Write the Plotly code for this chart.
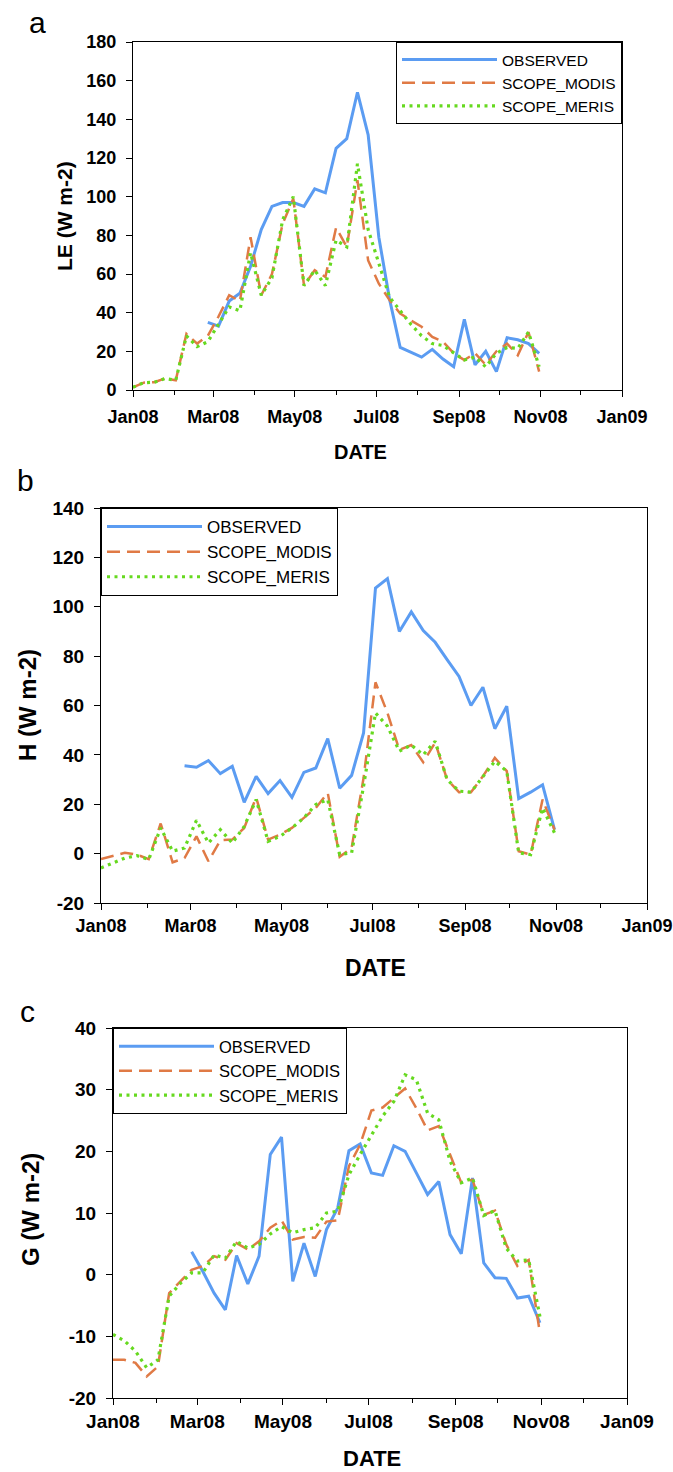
import pandas as pd
import plotly.graph_objects as go

# 8-day composite dates
model_dates = pd.date_range("2008-01-01", periods=39, freq="8D")
obs_dates = model_dates[7:]

# Panel a: LE
LE_obs = [35, 33, 46, 50, 64, 83, 95, 97, 97, 95, 104, 102, 125, 130, 154, 132, 79, 47, 22, 19.3,
          17, 21, 16, 12, 36.5, 13, 20, 9.5, 27, 26, 24, 19]
LE_modis = [1.4, 3.8, 4, 6, 5, 29, 24, 28, 38, 49, 46, 79, 49, 60, 86, 99, 54, 62, 58.5, 84,
            74, 108.5, 67, 55, 46.5, 39.6, 36, 32.7, 27.5, 25, 19, 15.5, 19, 13, 20, 24, 18, 30, 9.5]
LE_meris = [1.4, 3.8, 4, 6, 5, 28, 22.4, 25, 34, 43, 41, 71, 49, 58, 88, 100, 54, 62, 54, 77.5,
            74, 117, 83, 65, 48, 41, 34, 28, 24, 23, 19, 15.5, 17, 12, 19, 22, 21.5, 30, 12]
LE_ticks = [0, 20, 40, 60, 80, 100, 120, 140, 160, 180]

# Panel b: H
H_obs = [35.6, 35, 37.7, 32.4, 35.4, 20.8, 31.3, 24.3, 29.6, 22.8, 32.9, 34.7, 46.6, 26.5, 31.7, 48.9,
         107.6, 111.4, 90, 97.9, 90.4, 85.6, 78.6, 71.8, 60, 67.4, 50.6, 59.7, 22.3, 24.9, 27.9, 9.7]
H_modis = [-2.2, -0.8, 0.3, -0.4, -2.2, 12.2, -3.5, -1.8, 7.0, -3.1, 5.4, 5.7, 10.4, 22.8, 5.7, 7.7,
           10.4, 14.5, 18.5, 24.6, -1.3, 2.3, 30.6, 69.4, 57, 42, 44, 37, 45, 30, 24.9, 24.9, 31.3,
           38.8, 33.4, 1, -0.4, 21.9, 9.7]
H_meris = [-5.8, -3.8, -1.8, -0.8, -2.4, 10.4, 1, 2.3, 13.5, 4.3, 9.7, 4.3, 11, 21.9, 5, 7,
           10.4, 14.5, 19.9, 21.9, -0.4, 0.3, 27.3, 57, 51.6, 41.5, 44, 40, 45.5, 30, 25.3, 24.9, 31.3,
           37.4, 33.4, 0.3, -0.4, 18.5, 8.4]
H_ticks = [-20, 0, 20, 40, 60, 80, 100, 120, 140]

# Panel c: G
G_obs = [3.7, 0.5, -3.0, -5.7, 3.1, -1.5, 3.0, 19.5, 22.3, -1.1, 5.1, -0.3, 7.3, 10.8, 20.1, 21.2,
         16.5, 16.1, 20.9, 20, 16.5, 13, 15.1, 6.5, 3.4, 15.7, 1.9, -0.5, -0.6, -3.8, -3.5, -7.8]
G_modis = [-13.8, -13.8, -14.3, -16.5, -14.9, -3.0, -1.1, 0.8, 1.4, 3.0, 2.4, 5.1, 4.1, 5.4, 7.6, 8.8,
           5.7, 6.1, 6.0, 8.6, 8.8, 17.6, 21.1, 26.6, 27.1, 28.6, 30.2, 27, 23.4, 24.1, 19.5, 14.9,
           15.4, 9.7, 10.4, 4.9, 1.4, 2.4, -9.5]
G_meris = [-9.7, -10.7, -12.4, -15.1, -13.8, -3.5, -1.4, 0.3, 0.3, 3.2, 2.7, 5.4, 4.3, 4.9, 6.6, 7.8,
           6.8, 7.3, 7.6, 10.0, 10.3, 16.2, 19.5, 22.5, 25.7, 28.1, 32.4, 31.6, 26.2, 25.1, 18.4, 14.9,
           15.7, 9.6, 10.4, 4.3, 2.2, 2.4, -6.8]
G_ticks = [-20, -10, 0, 10, 20, 30, 40]

W, H = 673, 1472
FONT = "Liberation Sans, Arial, sans-serif"
BLUE = "#5b9cf2"
ORANGE = "#e07a45"
GREEN = "#66d91f"


def px_x(x):
    return x / W


def px_y(y):
    return 1 - y / H


panels = [
    dict(s="", obs=LE_obs, mod=LE_modis, mer=LE_meris, x0=133, x1=622, y0=42, y1=390,
         yr=[0, 180], tv=LE_ticks, tf=18, xtf=18, xso=4, yt="LE (W m-2)", ytx=65, yty=216, ytf=21,
         dx=360, dy=452, df=20, letter="a", lx=37, ly=22,
         leg=dict(x=622, y=42, f=15.5)),
    dict(s="2", obs=H_obs, mod=H_modis, mer=H_meris, x0=101, x1=647, y0=508, y1=903,
         yr=[-20, 140], tv=H_ticks, tf=19, xtf=18, xso=0, yt="H (W m-2)", ytx=27, yty=705, ytf=24,
         dx=375, dy=968, df=23, letter="b", lx=25, ly=480,
         leg=dict(x=101, y=508, f=17)),
    dict(s="3", obs=G_obs, mod=G_modis, mer=G_meris, x0=113, x1=627, y0=1028, y1=1398,
         yr=[-20, 40], tv=G_ticks, tf=19, xtf=19, xso=0, yt="G (W m-2)", ytx=30, yty=1210, ytf=24,
         dx=372, dy=1458, df=22, letter="c", lx=27, ly=1011,
         leg=dict(x=113, y=1028, f=16.5)),
]

fig = go.Figure()
annotations = []
layout = dict(width=W, height=H, margin=dict(l=0, r=0, t=0, b=0, autoexpand=False),
              template="none",
              paper_bgcolor="white", plot_bgcolor="white", showlegend=True,
              font=dict(family=FONT, color="black"))

for i, p in enumerate(panels):
    s = p["s"]
    xa = "x" + s
    ya = "y" + s
    legname = "legend" + s
    fig.add_trace(go.Scatter(x=obs_dates, y=p["obs"], mode="lines", name="OBSERVED",
                             line=dict(color=BLUE, width=3), xaxis=xa, yaxis=ya, legend=legname))
    fig.add_trace(go.Scatter(x=model_dates, y=p["mod"], mode="lines", name="SCOPE_MODIS",
                             line=dict(color=ORANGE, width=2.5, dash="13px,7px"),
                             xaxis=xa, yaxis=ya, legend=legname))
    fig.add_trace(go.Scatter(x=model_dates, y=p["mer"], mode="lines", name="SCOPE_MERIS",
                             line=dict(color=GREEN, width=3.2, dash="3px,4.5px"),
                             xaxis=xa, yaxis=ya, legend=legname))

    layout["xaxis" + s] = dict(
        domain=[px_x(p["x0"]), px_x(p["x1"])], anchor=ya, type="date", automargin=False,
        range=["2008-01-01", "2009-01-01"], tick0="2008-01-01", dtick="M2",
        tickformat="%b%y", ticks="outside", ticklen=6, tickcolor="black",
        tickfont=dict(family=FONT, size=p["xtf"], color="black", weight="bold"),
        showline=True, linecolor="black", linewidth=1, mirror=True, showgrid=False,
        zeroline=False, ticklabelstandoff=p["xso"], ticklabeloverflow="allow",
        minor=dict(dtick="M1", tick0="2008-01-01", ticks="outside", ticklen=4,
                   tickcolor="black", showgrid=False),
    )
    layout["yaxis" + s] = dict(
        domain=[px_y(p["y1"]), px_y(p["y0"])], anchor=xa, range=p["yr"], automargin=False,
        tickmode="array", tickvals=p["tv"], ticktext=[str(v) for v in p["tv"]],
        ticks="outside", ticklen=6, tickcolor="black",
        tickfont=dict(family=FONT, size=p["tf"], color="black", weight="bold"),
        showline=True, linecolor="black", linewidth=1, mirror=True, showgrid=False,
        zeroline=False, ticklabelstandoff=6,
    )
    lg = p["leg"]
    layout[legname] = dict(
        x=px_x(lg["x"]), y=px_y(lg["y"]), xanchor="right" if i == 0 else "left",
        yanchor="top", bordercolor="black", borderwidth=1, bgcolor="white",
        font=dict(family=FONT, size=lg["f"], color="black"), itemwidth=95,
        tracegroupgap=0,
    )
    annotations.append(dict(text=p["yt"], x=px_x(p["ytx"]), y=px_y(p["yty"]), xref="paper",
                            yref="paper", showarrow=False, textangle=-90,
                            font=dict(family=FONT, size=p["ytf"], color="black", weight="bold"),
                            xanchor="center", yanchor="middle"))
    annotations.append(dict(text="DATE", x=px_x(p["dx"]), y=px_y(p["dy"]), xref="paper",
                            yref="paper", showarrow=False,
                            font=dict(family=FONT, size=p["df"], color="black", weight="bold"),
                            xanchor="center", yanchor="middle"))
    annotations.append(dict(text=p["letter"], x=px_x(p["lx"]), y=px_y(p["ly"]), xref="paper",
                            yref="paper", showarrow=False,
                            font=dict(family=FONT, size=30, color="black"),
                            xanchor="center", yanchor="middle"))

layout["annotations"] = annotations
fig.update_layout(**layout)
fig.write_html("out.html")
